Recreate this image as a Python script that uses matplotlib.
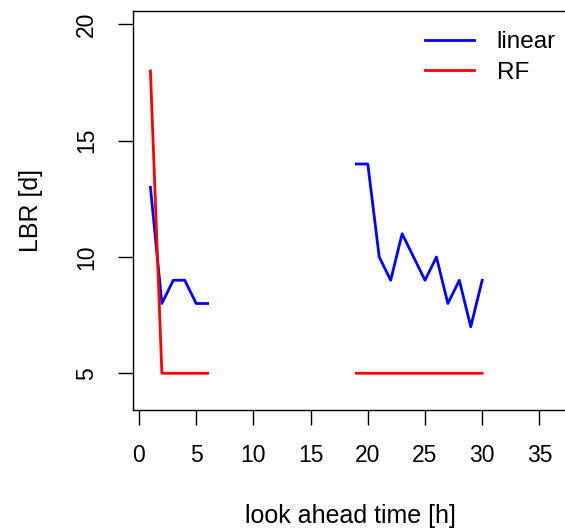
import numpy as np
import matplotlib
matplotlib.use('Agg')
import matplotlib.pyplot as plt

plt.rcParams['font.family'] = ['Liberation Sans', 'DejaVu Sans']

# look ahead time [h]; NaN breaks the line between the two segments
hours = np.arange(1, 31)
linear = [13, 8, 9, 9, 8, 8] + [np.nan] * 12 + [14, 14, 10, 9, 11, 10, 9, 10, 8, 9, 7, 9]
rf = [18, 5, 5, 5, 5, 5] + [np.nan] * 12 + [5] * 12

xticks = [0, 5, 10, 15, 20, 25, 30, 35]
yticks = [5, 10, 15, 20]

fig = plt.figure(figsize=(5.65, 5.31), dpi=100)
ax = fig.add_axes([132.7/565, 121/531, 435.3/565, 399/531])

ax.plot(hours, linear, color='#0000ff', lw=2.0, label='linear')
ax.plot(hours, rf, color='#ff0000', lw=2.0, label='RF')

ax.set_xlim(-0.55, 37.5)
ax.set_ylim(3.42, 20.58)
ax.set_xticks(xticks)
ax.set_yticks(yticks)

fs = 16.5
ax.tick_params(axis='both', direction='out', length=10.8, width=1, labelsize=fs, pad=14)
for lab in ax.get_yticklabels():
    lab.set_rotation(90)
    lab.set_va('center')
for sp in ax.spines.values():
    sp.set_linewidth(1)

ax.set_xlabel('look ahead time [h]', fontsize=18)
ax.set_ylabel('LBR [d]', fontsize=18)
ax.xaxis.set_label_coords(0.5, -0.236)
ax.yaxis.set_label_coords(-0.206, 0.5)

ax.legend(loc='upper left', bbox_to_anchor=(425/565, 1 - 31/531), bbox_transform=fig.transFigure,
          frameon=False, fontsize=17.5, handlelength=2.0, handletextpad=0.95,
          labelspacing=0.36, borderpad=0, borderaxespad=0)

plt.savefig('out.png', dpi=100, facecolor='w')
